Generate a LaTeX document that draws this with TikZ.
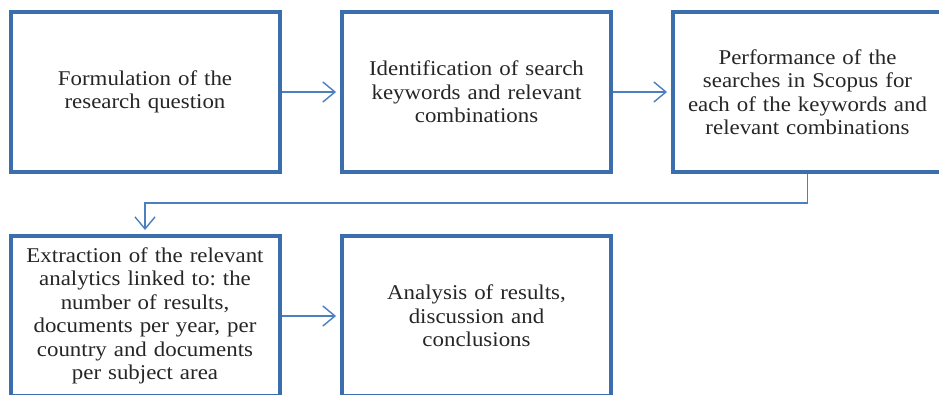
\documentclass[tikz,border=0pt]{standalone}
\usepackage{fontspec}
\setmainfont{Liberation Serif}[FakeStretch=1.09]
\usetikzlibrary{arrows.meta}
\definecolor{boxblue}{HTML}{3A6EAD}
\definecolor{arrowblue}{HTML}{4A7FC0}
\definecolor{txt}{HTML}{262626}
\tikzset{
  stepbox/.style={draw=boxblue, line width=4pt, fill=white, minimum width=269pt, minimum height=160pt, text width=255pt, align=center, text=txt, font=\fontsize{21pt}{23.5pt}\selectfont\frenchspacing, inner sep=0pt},
  flow/.style={draw=arrowblue, line width=1.4pt, shorten >=4pt, -{Straight Barb[length=12pt,width=20pt,line width=1.4pt]}}
}
\begin{document}
\begin{tikzpicture}[x=1pt,y=-1pt]
\clip (0,0) rectangle (939,395);
\node[stepbox] (b1) at (145,92) {Formulation of the\\research question};
\node[stepbox] (b2) at (476.5,92) {Identification of search\\keywords and relevant\\combinations};
\node[stepbox] (b3) at (807.5,92) {Performance of the\\searches in Scopus for\\each of the keywords and\\relevant combinations};
\node[stepbox] (b4) at (145,316) {Extraction of the relevant\\analytics linked to: the\\number of results,\\documents per year, per\\country and documents\\per subject area};
\node[stepbox] (b5) at (476.5,316) {Analysis of results,\\discussion and\\conclusions};
\coordinate (bend) at (807.5,203);
\draw[flow] (b1.east) -- (b2.west);
\draw[flow] (b2.east) -- (b3.west);
\draw[flow] (b4.east) -- (b5.west);
\draw[flow] (b3.south) -- (bend) -| (b4.north);
\end{tikzpicture}
\end{document}
